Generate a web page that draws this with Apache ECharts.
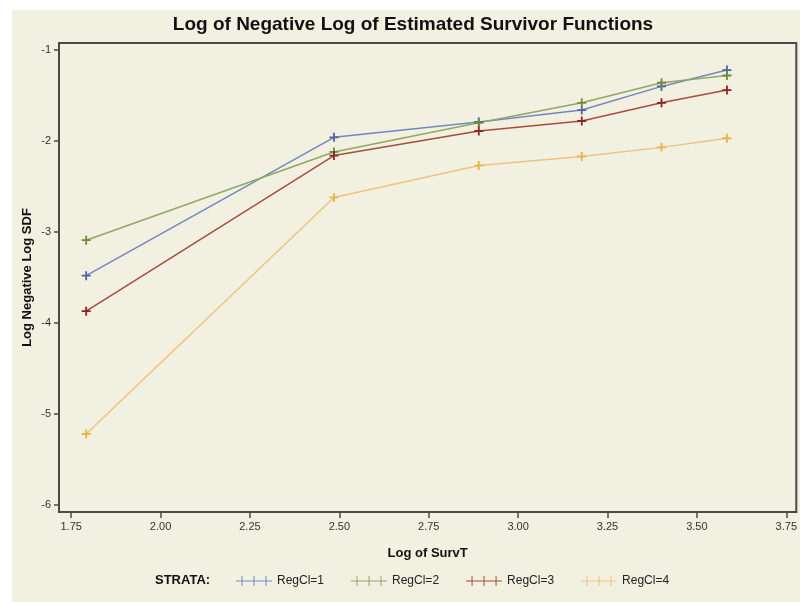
<!DOCTYPE html>
<html>
<head>
<meta charset="utf-8">
<script src="https://cdn.jsdelivr.net/npm/echarts@6/dist/echarts.min.js"></script>
<style>
html,body{margin:0;padding:0;background:#ffffff;}
#chart{width:800px;height:602px;}
</style>
</head>
<body>
<div id="chart"></div>
<script>
// Data
const logSurvT = [1.792, 2.485, 2.890, 3.178, 3.401, 3.584];
const regCl1 = [-3.48, -1.96, -1.79, -1.66, -1.40, -1.22];
const regCl2 = [-3.09, -2.12, -1.80, -1.58, -1.36, -1.28];
const regCl3 = [-3.87, -2.16, -1.89, -1.78, -1.58, -1.44];
const regCl4 = [-5.22, -2.62, -2.27, -2.17, -2.07, -1.97];
const seriesNames = ['RegCl=1', 'RegCl=2', 'RegCl=3', 'RegCl=4'];
const xTicks = [1.75, 2.00, 2.25, 2.50, 2.75, 3.00, 3.25, 3.50, 3.75];
const yTicks = [-6, -5, -4, -3, -2, -1];

const FONT = "'Liberation Sans Narrow', 'Liberation Sans', Arial, sans-serif";
const BG = '#f2f0e0';
const lineColors = ['#7487c0', '#90a862', '#a84c3c', '#eec47c'];
const markColors = ['#4e62a8', '#6f8c36', '#8c2420', '#e8b448'];
const plus = 'path://M4,0h2v4h4v2h-4v4h-2v-4h-4v-2h4z';
const legendIcon = 'path://M0,4.5h36v1h-36z M5.5,0h1v10h-1z M17.5,0h1v10h-1z M29.5,0h1v10h-1z';

const allData = [regCl1, regCl2, regCl3, regCl4];
const series = allData.map((vals, i) => ({
  name: seriesNames[i],
  type: 'line',
  data: vals.map((v, j) => [logSurvT[j], v]),
  symbol: plus,
  symbolSize: 9,
  showSymbol: true,
  lineStyle: { color: lineColors[i], width: 1.5 },
  itemStyle: { color: markColors[i] },
  emphasis: { disabled: true },
  animation: false
}));

const chart = echarts.init(document.getElementById('chart'), null, { renderer: 'canvas' });
chart.setOption({
  backgroundColor: 'transparent',
  animation: false,
  graphic: [
    { type: 'rect', z: -10, shape: { x: 12, y: 10, width: 788, height: 592 }, style: { fill: BG } },
    { type: 'text', left: 155, top: 574, style: { text: 'STRATA:', font: 'bold 13px ' + FONT, fill: '#111' } }
  ],
  title: {
    text: 'Log of Negative Log of Estimated Survivor Functions',
    left: 408, textAlign: 'center', top: 10,
    textStyle: { fontFamily: FONT, fontSize: 19, fontWeight: 'bold', color: '#111' }
  },
  legend: {
    left: 231, top: 570,
    itemWidth: 36, itemHeight: 10, itemGap: 27,
    icon: legendIcon,
    textStyle: { fontFamily: FONT, fontSize: 12, color: '#222' },
    data: seriesNames.map((n, i) => ({ name: n, itemStyle: { color: lineColors[i] } }))
  },
  grid: {
    left: 59, top: 43, width: 738, height: 469,
    show: true, backgroundColor: BG, borderColor: '#4a4a4a', borderWidth: 2
  },
  xAxis: {
    type: 'value', min: 1.716, max: 3.778,
    name: 'Log of SurvT', nameLocation: 'middle', nameGap: 35,
    nameTextStyle: { fontFamily: FONT, fontSize: 13, fontWeight: 'bold', color: '#111' },
    axisLine: { show: true, lineStyle: { color: '#4a4a4a', width: 2 } },
    axisTick: { show: true, length: 6, customValues: xTicks, lineStyle: { color: '#4a4a4a', width: 1.5 } },
    axisLabel: { customValues: xTicks, margin: 9, fontFamily: FONT, fontSize: 11, color: '#333', formatter: v => Number(v).toFixed(2) },
    splitLine: { show: false }
  },
  yAxis: {
    type: 'value', min: -6.077, max: -0.923,
    name: 'Log Negative Log SDF', nameLocation: 'middle', nameGap: 25, nameRotate: 90,
    nameMoveOverlap: false,
    nameTextStyle: { fontFamily: FONT, fontSize: 13, fontWeight: 'bold', color: '#111' },
    axisLine: { show: true, lineStyle: { color: '#4a4a4a', width: 2 } },
    axisTick: { show: true, length: 5, customValues: yTicks, lineStyle: { color: '#4a4a4a', width: 1.5 } },
    axisLabel: { customValues: yTicks, margin: 8, fontFamily: FONT, fontSize: 11, color: '#333', formatter: v => String(Math.round(v)) },
    splitLine: { show: false }
  },
  series: series
});
</script>
</body>
</html>
